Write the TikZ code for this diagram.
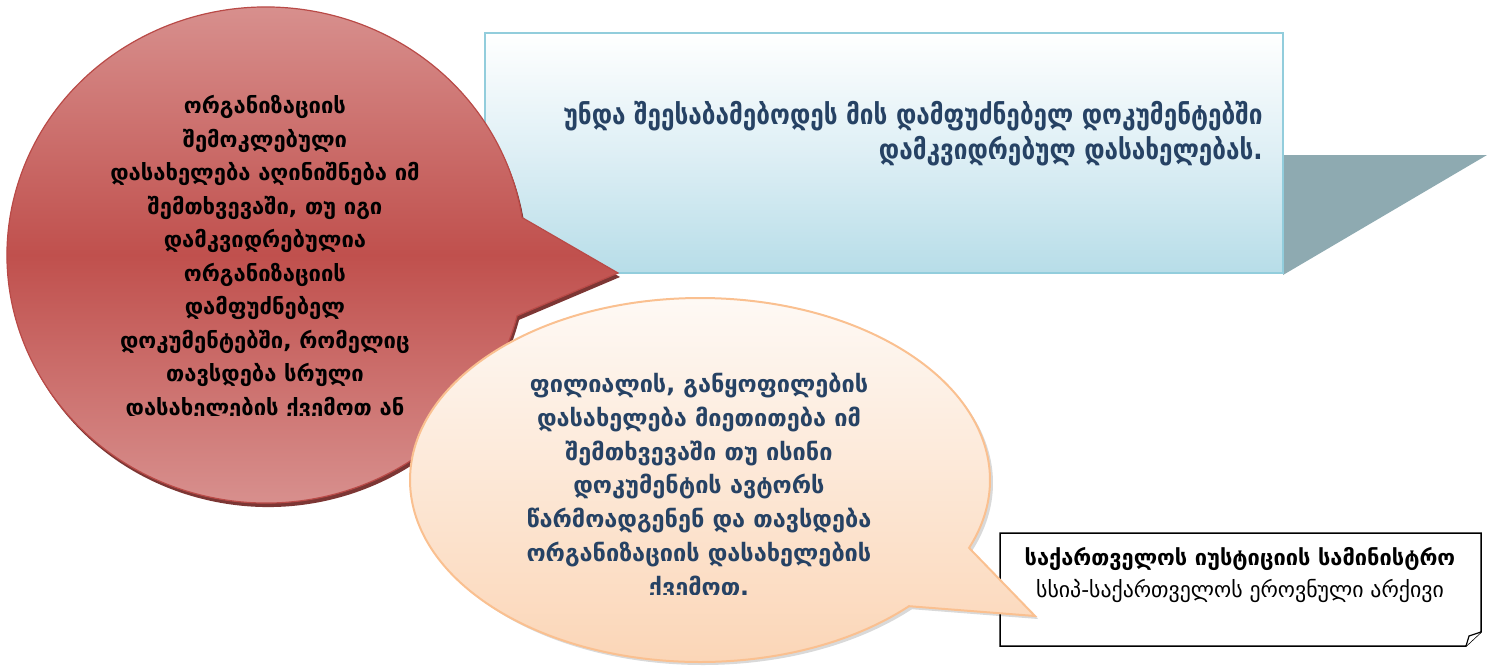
\documentclass[tikz,border=0pt]{standalone}
\usepackage{fontspec}
\setmainfont{DejaVu Sans}
\newfontfamily\geo{DejaVu Sans}
\newfontfamily\geocond[FakeStretch=0.87]{DejaVu Sans}
\definecolor{redtop}{RGB}{218,150,148}
\definecolor{redmid}{RGB}{192,80,77}
\definecolor{redline}{RGB}{185,74,71}
\definecolor{redshadow}{RGB}{110,32,30}
\definecolor{bluetxt}{RGB}{38,66,100}
\definecolor{boxline}{RGB}{146,205,220}
\definecolor{boxbottom}{RGB}{183,221,232}
\definecolor{boxmid}{RGB}{222,239,245}
\definecolor{grayshadow}{RGB}{142,170,177}
\definecolor{orgtop}{RGB}{254,251,248}
\definecolor{orgbot}{RGB}{251,212,180}
\definecolor{orgline}{RGB}{250,192,144}
\tikzset{
  redtext/.style={font=\geo\bfseries\fontsize{22}{33.5}\selectfont, align=center, text=black, inner sep=0pt},
  orgtext/.style={font=\geo\bfseries\fontsize{23.5}{33.8}\selectfont, align=center, text=bluetxt, inner sep=0pt},
  boxtext/.style={font=\geocond\bfseries\fontsize{28}{35}\selectfont, align=right, text=bluetxt, inner sep=0pt},
  notetext/.style={font=\geo\fontsize{21.8}{32}\selectfont, align=center, text=black, inner sep=0pt},
  redbubble/.style={line width=1.2pt},
}
\newcommand{\redpath}{(266,255) ++(14.2:259 and 248) arc[start angle=14.2, end angle=351.3, x radius=259, y radius=248] -- (618,273) -- cycle}
\newcommand{\orgpath}{(700,480) ++(43.9:290 and 182) arc[start angle=43.9, end angle=381.9, x radius=290, y radius=182] -- (1035,616) -- cycle}
\begin{document}
\begin{tikzpicture}[x=1pt,y=-1pt]
\useasboundingbox (0,0) rectangle (1487,670);
% blue box shadow
\fill[grayshadow] (1283,155) -- (1487,155) -- (1283,275) -- cycle;
% blue box
\shade[top color=white, bottom color=boxbottom, middle color=boxmid] (485,33) rectangle (1283,273);
\draw[boxline, line width=2pt] (485,33) rectangle (1283,273);
\node[boxtext, anchor=east] (boxtxt) at (1263,134) {უნდა შეესაბამებოდეს მის დამფუძნებელ დოკუმენტებში\\დამკვიდრებულ დასახელებას.};
% red bubble
\fill[redshadow, opacity=0.9, shift={(2,4)}] \redpath;
\shade[top color=redtop, bottom color=redtop, middle color=redmid] \redpath;
\draw[redline, redbubble] \redpath;
\begin{scope}
\clip (0,0) rectangle (1487,415);
\node[redtext] (redtxt) at (265,258) {ორგანიზაციის\\შემოკლებული\\დასახელება აღინიშნება იმ\\შემთხვევაში, თუ იგი\\დამკვიდრებულია\\ორგანიზაციის\\დამფუძნებელ\\დოკუმენტებში, რომელიც\\თავსდება სრული\\დასახელების ქვემოთ ან};
\end{scope}
% note box
\draw[fill=white, line width=1.5pt] (1000,533) -- (1481,533) -- (1481,632) -- (1466,646) -- (1000,646) -- cycle;
\draw[line width=1.2pt, fill=white] (1466,646) -- (1469,636) -- (1481,632);
\node[notetext] (notetxt) at (1240,575) {{\bfseries საქართველოს იუსტიციის სამინისტრო}\\სსიპ-საქართველოს ეროვნული არქივი};
% orange bubble
\fill[black, opacity=0.15, shift={(3,3)}] \orgpath;
\shade[top color=orgtop, bottom color=orgbot] \orgpath;
\draw[orgline, line width=2pt] \orgpath;
\begin{scope}
\clip (0,0) rectangle (1487,594);
\node[orgtext] (orgtxt) at (699,487) {ფილიალის, განყოფილების\\დასახელება მიეთითება იმ\\შემთხვევაში თუ ისინი\\დოკუმენტის ავტორს\\წარმოადგენენ და თავსდება\\ორგანიზაციის დასახელების\\ქვემოთ.};
\end{scope}
\end{tikzpicture}
\end{document}
